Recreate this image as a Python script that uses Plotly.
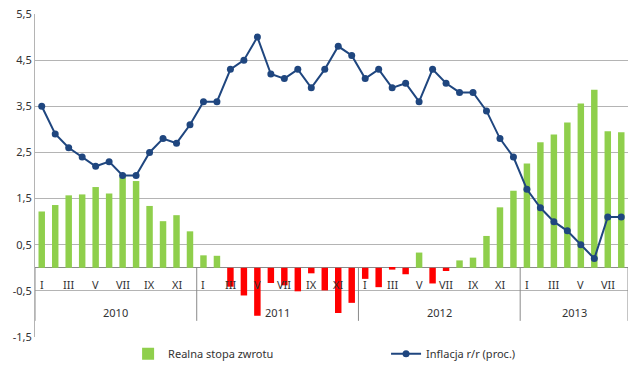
import plotly.graph_objects as go

years = ["2010", "2011", "2012", "2013"]
months_per_year = [12, 12, 12, 8]
month_names = ["I", "II", "III", "IV", "V", "VI", "VII", "VIII", "IX", "X", "XI", "XII"]

real_return = [
    1.22, 1.36, 1.57, 1.59, 1.75, 1.61, 1.96, 1.88, 1.34, 1.01, 1.14, 0.79,
    0.27, 0.26, -0.41, -0.60, -1.04, -0.33, -0.38, -0.51, -0.12, -0.49, -0.98, -0.76,
    -0.24, -0.42, -0.04, -0.14, 0.33, -0.34, -0.07, 0.16, 0.22, 0.69, 1.31, 1.67,
    2.26, 2.72, 2.89, 3.15, 3.56, 3.86, 2.96, 2.94,
]
inflation = [
    3.5, 2.9, 2.6, 2.4, 2.2, 2.3, 2.0, 2.0, 2.5, 2.8, 2.7, 3.1,
    3.6, 3.6, 4.3, 4.5, 5.0, 4.2, 4.1, 4.3, 3.9, 4.3, 4.8, 4.6,
    4.1, 4.3, 3.9, 4.0, 3.6, 4.3, 4.0, 3.8, 3.8, 3.4, 2.8, 2.4,
    1.7, 1.3, 1.0, 0.8, 0.5, 0.2, 1.1, 1.1,
]
y_ticks = [-1.5, -0.5, 0.5, 1.5, 2.5, 3.5, 4.5, 5.5]

x = list(range(len(inflation)))
month_labels = []
for yr, n in zip(years, months_per_year):
    for m in range(n):
        month_labels.append(month_names[m])

GREEN = "#8fcf4c"
RED = "#ff0000"
NAVY = "#1f467f"
FONT = "Noto Sans"
TXT = "#333333"

bar_colors = [GREEN if v >= 0 else RED for v in real_return]

fig = go.Figure()
fig.add_trace(go.Bar(
    x=x, y=real_return, name="Realna stopa zwrotu",
    marker=dict(color=bar_colors, line=dict(width=0)),
    width=0.48, legend="legend",
))
fig.add_trace(go.Scatter(
    x=x, y=inflation, name="Inflacja r/r (proc.)", mode="lines+markers",
    line=dict(color=NAVY, width=2), marker=dict(color=NAVY, size=7),
    legend="legend2",
))

annotations = []
for i, lab in enumerate(month_labels):
    if i % 2 == 0:
        annotations.append(dict(x=i, y=-0.37, xref="x", yref="y", text=lab,
                                showarrow=False, font=dict(family=FONT, size=11, color=TXT)))
start = 0
seps = [-0.5]
for yr, n in zip(years, months_per_year):
    mid = start + (n - 1) / 2
    annotations.append(dict(x=mid, y=-0.96, xref="x", yref="y", text=yr,
                            showarrow=False, font=dict(family=FONT, size=11, color=TXT)))
    start += n
    seps.append(start - 0.5)

shapes = []
for s in seps:
    shapes.append(dict(type="line", xref="x", yref="y", x0=s, x1=s, y0=0, y1=-1.15,
                       line=dict(color="#8a8a8a", width=1)))

leg_common = dict(orientation="h", yanchor="middle", y=-0.052, xanchor="left",
                  itemwidth=30, font=dict(family=FONT, size=11, color=TXT),
                  bgcolor="rgba(0,0,0,0)", borderwidth=0)

fig.update_layout(
    width=640, height=368,
    margin=dict(l=35, r=12, t=14, b=31, autoexpand=False),
    paper_bgcolor="white", plot_bgcolor="white",
    font=dict(family=FONT, size=11, color=TXT),
    showlegend=True,
    legend=dict(x=0.157, **leg_common),
    legend2=dict(x=0.592, **leg_common),
    xaxis=dict(range=[-0.5, len(x) - 0.5], showgrid=False, showticklabels=False,
               zeroline=False, showline=False, ticks=""),
    yaxis=dict(range=[-1.5, 5.5], tickvals=y_ticks, automargin=False,
               ticktext=[f"{v:.1f}".replace(".", ",") for v in y_ticks],
               showgrid=True, gridcolor="#b4b4b4", gridwidth=1,
               zeroline=True, zerolinecolor="#8a8a8a", zerolinewidth=1,
               showline=True, linecolor="#b4b4b4", linewidth=1,
               ticks="", tickfont=dict(family=FONT, size=11, color=TXT)),
    annotations=annotations, shapes=shapes, bargap=0.5,
)

fig.write_html("out.html", config={"displayModeBar": False},
               post_script="document.body.style.margin='0';")
